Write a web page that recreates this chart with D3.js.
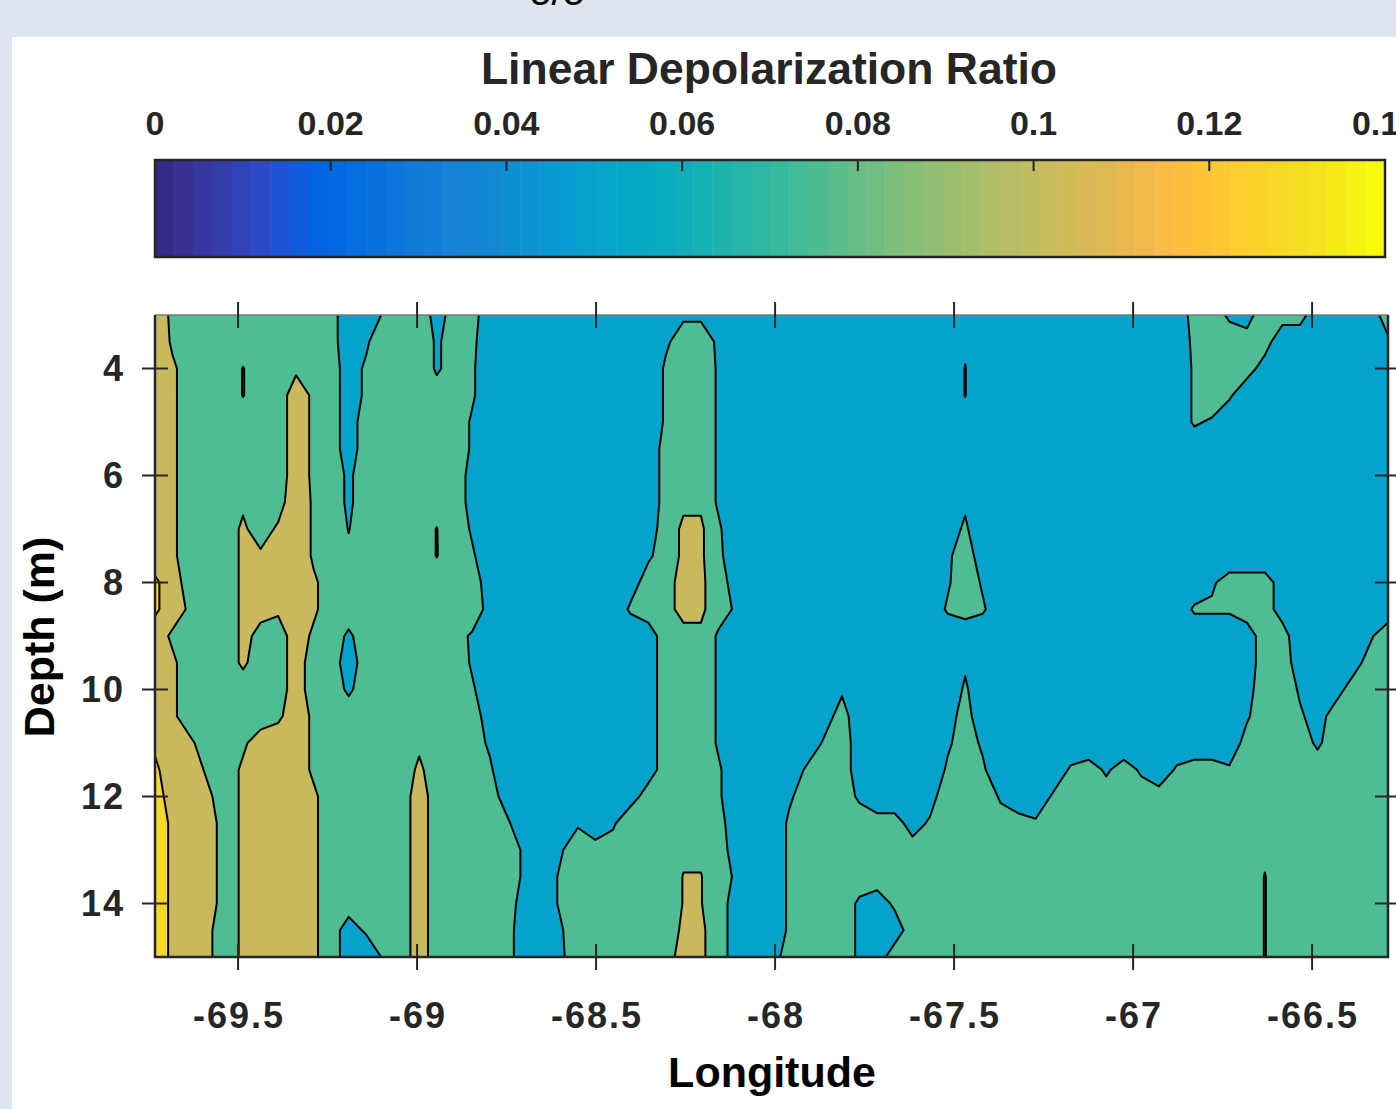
<!DOCTYPE html>
<html><head><meta charset="utf-8">
<script src="https://cdn.jsdelivr.net/npm/d3@7"></script>
<style>
html,body{margin:0;padding:0;background:#dce5f0;}
svg{display:block;}
text{font-family:"Liberation Sans",Arial,Helvetica,sans-serif;}
</style></head><body>
<svg id="chart" width="1396" height="1109"></svg>
<script>
// ---------- DATA ----------
// grid longitudes (profile positions across the section)
const longitudes = [-69.732,-69.683,-69.634,-69.584,-69.535,-69.486,-69.437,-69.388,-69.338,-69.289,
 -69.240,-69.191,-69.142,-69.092,-69.043,-68.994,-68.945,-68.896,-68.846,-68.797,
 -68.748,-68.699,-68.650,-68.600,-68.551,-68.502,-68.453,-68.404,-68.354,-68.305,
 -68.256,-68.207,-68.158,-68.108,-68.059,-68.010,-67.961,-67.912,-67.862,-67.813,
 -67.764,-67.715,-67.666,-67.616,-67.567,-67.518,-67.469,-67.420,-67.370,-67.321,
 -67.272,-67.223,-67.174,-67.124,-67.075,-67.026,-66.977,-66.928,-66.878,-66.829,
 -66.780,-66.731,-66.682,-66.632,-66.583,-66.534,-66.485,-66.436,-66.386,-66.337,-66.288];
// grid depths (m)
const depths = [3,3.5,4,4.5,5,5.5,6,6.5,7,7.5,8,8.5,9,9.5,10,10.5,11,11.5,12,12.5,13,13.5,14,14.5,15];
// estimated linear depolarization ratio readings, keyed by the character used in the rows below
const dlrCodeValues = {"0":0.0542,"1":0.0625,"2":0.0708,"z":0.0742,"a":0.0758,"3":0.0792,"4":0.0875,
  "5":0.0958,"b":0.1008,"6":0.1042,"7":0.1125,"8":0.1208,"9":0.1292,"Y":0.1375};
// one string per depth row, one character per longitude column
const dlrRows = [
 "7544444444"+"4003451440"+"0000000000"+"2200000000"+"0000000000"+"0000000004"+"4215440001"+"4",
 "8544444444"+"4025452431"+"0000000002"+"4420000000"+"0000002000"+"0000000013"+"4444000000"+"2",
 "76444b4454"+"4134452430"+"0000000003"+"4520000000"+"000000a000"+"0000000003"+"4441000000"+"0",
 "76444b4475"+"4134444430"+"0000000003"+"4520000000"+"000000a000"+"0000000003"+"5300000000"+"0",
 "7644444475"+"4144444520"+"0000000003"+"4520000000"+"0000001000"+"0000000003"+"2000000000"+"0",
 "7644444475"+"4144444520"+"0000000004"+"4520000000"+"0000000000"+"0000000000"+"0000000000"+"0",
 "7644444475"+"4244444510"+"0000000004"+"5520000000"+"0000000000"+"0000000000"+"0000000000"+"0",
 "7644454485"+"4244444510"+"0000000004"+"5520000000"+"0000002000"+"0000000000"+"0000000000"+"0",
 "7644464685"+"4z4444z520"+"0000000014"+"6630000000"+"0000013000"+"0000000000"+"0000000000"+"0",
 "7644466785"+"434444z430"+"0000000024"+"6631000000"+"0000024100"+"0000000000"+"0000000000"+"0",
 "9744467786"+"4444444441"+"0000000144"+"7641000000"+"0000025200"+"0000000000"+"2444100000"+"0",
 "9754466676"+"4444444451"+"0000000344"+"7642000000"+"0000034300"+"0000000003"+"3344100000"+"0",
 "7544465475"+"4244444420"+"0000000014"+"4520000000"+"0000000000"+"0000000000"+"0014400002"+"5",
 "7644464474"+"4144444520"+"0000000014"+"4520000000"+"0000002000"+"0000000000"+"0014410014"+"5",
 "7644444474"+"4244444430"+"0000000014"+"4520000002"+"0000003000"+"0000000000"+"0015520144"+"5",
 "7644444575"+"4444444441"+"0000000014"+"4520000014"+"0000014000"+"0000000000"+"0025531444"+"5",
 "8764457775"+"4444454442"+"0000000014"+"4520000034"+"1000024200"+"0000000000"+"0045542444"+"5",
 "9775467775"+"4444464443"+"0000000014"+"4530000344"+"1000034300"+"0034242034"+"4344444444"+"5",
 "9876467776"+"4444474444"+"1000000144"+"4530002444"+"2000154520"+"0344444444"+"4444444444"+"5",
 "Y877467776"+"4444474444"+"3000202544"+"4540003444"+"4441344444"+"3444444444"+"4444444444"+"5",
 "Y877467776"+"4444474444"+"4202544444"+"5541003444"+"4444444444"+"4444444444"+"4445444444"+"5",
 "Y877467776"+"4444474444"+"4203444444"+"bb42003444"+"4444444444"+"4444444444"+"444b444444"+"5",
 "Y877467776"+"4444474444"+"4103444444"+"bb41003444"+"2134444444"+"4444444444"+"444b444444"+"5",
 "Y876467776"+"4134474444"+"4002544444"+"6641003444"+"2114444444"+"4444444444"+"444b444444"+"5",
 "Y876467776"+"4103474444"+"4002444444"+"7641014444"+"2144444444"+"4444444444"+"444b444444"+"5"
];
const contourLevels = [0.05, 0.075, 0.1, 0.125];
const contourColors = ["#05a2cc", "#4ebd92", "#c8ba5c", "#f6d826"];
const xTicks = [-69.5, -69, -68.5, -68, -67.5, -67, -66.5];
const yTicks = [4, 6, 8, 10, 12, 14];
const cbTicks = [0, 0.02, 0.04, 0.06, 0.08, 0.1, 0.12, 0.14];
const cbTickLabels = ["0", "0.02", "0.04", "0.06", "0.08", "0.1", "0.12", "0.14"];
// parula colormap, 64 entries
const parula64 = [
[0.2081,0.1663,0.5292],[0.2116,0.1898,0.5777],[0.2123,0.2138,0.6270],[0.2081,0.2386,0.6771],
[0.1959,0.2645,0.7279],[0.1707,0.2919,0.7792],[0.1253,0.3242,0.8303],[0.0591,0.3598,0.8683],
[0.0117,0.3875,0.8820],[0.0060,0.4086,0.8828],[0.0165,0.4266,0.8786],[0.0329,0.4430,0.8720],
[0.0498,0.4586,0.8641],[0.0629,0.4737,0.8554],[0.0723,0.4887,0.8467],[0.0779,0.5040,0.8384],
[0.0793,0.5200,0.8312],[0.0749,0.5375,0.8263],[0.0641,0.5570,0.8240],[0.0488,0.5772,0.8228],
[0.0343,0.5966,0.8199],[0.0265,0.6137,0.8135],[0.0239,0.6287,0.8038],[0.0231,0.6418,0.7913],
[0.0228,0.6535,0.7768],[0.0267,0.6642,0.7607],[0.0384,0.6743,0.7436],[0.0590,0.6838,0.7254],
[0.0843,0.6928,0.7062],[0.1133,0.7015,0.6859],[0.1453,0.7098,0.6646],[0.1801,0.7177,0.6424],
[0.2178,0.7250,0.6193],[0.2586,0.7317,0.5954],[0.3022,0.7376,0.5712],[0.3482,0.7424,0.5473],
[0.3953,0.7459,0.5244],[0.4420,0.7481,0.5033],[0.4871,0.7491,0.4840],[0.5300,0.7491,0.4661],
[0.5709,0.7485,0.4494],[0.6099,0.7473,0.4337],[0.6473,0.7456,0.4188],[0.6834,0.7435,0.4044],
[0.7184,0.7411,0.3905],[0.7525,0.7384,0.3768],[0.7858,0.7356,0.3633],[0.8185,0.7327,0.3498],
[0.8507,0.7299,0.3360],[0.8824,0.7274,0.3217],[0.9139,0.7258,0.3063],[0.9450,0.7261,0.2886],
[0.9739,0.7314,0.2666],[0.9938,0.7455,0.2403],[0.9990,0.7653,0.2164],[0.9955,0.7861,0.1967],
[0.9880,0.8066,0.1794],[0.9789,0.8271,0.1633],[0.9697,0.8481,0.1475],[0.9626,0.8705,0.1309],
[0.9589,0.8949,0.1132],[0.9598,0.9218,0.0948],[0.9661,0.9514,0.0755],[0.9763,0.9831,0.0538]];

// ---------- DRAW ----------
const svg = d3.select("#chart");
const axisColor = "#262626";

svg.append("rect").attr("width",1396).attr("height",1109).attr("fill","#dce5f0");
svg.append("rect").attr("x",12).attr("y",37).attr("width",1384).attr("height",1072).attr("fill","#ffffff");

// text cut off at the very top edge (as in the reference)
svg.append("text").attr("x",557).attr("y",5).attr("text-anchor","middle")
  .attr("font-size",40).attr("fill","#000").text("δ/δ");

const plot = {left:155, right:1388, top:315, bottom:957};
const x = d3.scaleLinear().domain([longitudes[0], longitudes[longitudes.length-1]]).range([plot.left, plot.right]);
const y = d3.scaleLinear().domain([3, 15]).range([plot.top, plot.bottom]);

// grid index -> data coordinate
const gx = d3.scaleLinear().domain(d3.range(longitudes.length)).range(longitudes);
const gy = d3.scaleLinear().domain(d3.range(depths.length)).range(depths);

const nx = longitudes.length, ny = depths.length;
const values = dlrRows.flatMap(r => Array.from(r).map(c => dlrCodeValues[c]));

const contours = d3.contours().size([nx, ny]).thresholds(contourLevels)(values);

svg.append("clipPath").attr("id","plotclip").append("rect")
  .attr("x",plot.left).attr("y",plot.top).attr("width",plot.right-plot.left).attr("height",plot.bottom-plot.top);

function mpPath(geom){
  let d = "";
  geom.coordinates.forEach(poly => poly.forEach(ring => {
    d += "M" + ring.map(([cx,cy]) => x(gx(cx-0.5)).toFixed(2)+","+y(gy(cy-0.5)).toFixed(2)).join("L") + "Z";
  }));
  return d;
}

const cg = svg.append("g").attr("clip-path","url(#plotclip)");
cg.selectAll("path").data(contours).join("path")
  .attr("d", mpPath)
  .attr("fill", (d,i) => contourColors[i])
  .attr("fill-rule","evenodd")
  .attr("stroke","#000")
  .attr("stroke-width",2)
  .attr("stroke-linejoin","round");

// frame
svg.append("line").attr("x1",plot.left).attr("x2",plot.right).attr("y1",plot.top).attr("y2",plot.top)
  .attr("stroke","#7a7a7a").attr("stroke-width",1.5);
svg.append("path").attr("d",`M${plot.left},${plot.top}V${plot.bottom}H${plot.right}V${plot.top}`)
  .attr("fill","none").attr("stroke",axisColor).attr("stroke-width",2.5);

// ticks (both directions)
const tk = 13;
const tg = svg.append("g").attr("stroke",axisColor).attr("stroke-width",2);
xTicks.forEach(v => {
  tg.append("line").attr("x1",x(v)).attr("x2",x(v)).attr("y1",plot.bottom-tk).attr("y2",plot.bottom+tk);
  tg.append("line").attr("x1",x(v)).attr("x2",x(v)).attr("y1",plot.top-tk).attr("y2",plot.top+tk);
});
yTicks.forEach(v => {
  tg.append("line").attr("x1",plot.left-tk).attr("x2",plot.left+tk).attr("y1",y(v)).attr("y2",y(v));
  tg.append("line").attr("x1",plot.right-tk).attr("x2",plot.right+tk).attr("y1",y(v)).attr("y2",y(v));
});

// tick labels
svg.append("g").selectAll("text").data(xTicks).join("text")
  .attr("x",d=>x(d)+1).attr("y",1028).attr("text-anchor","middle")
  .attr("font-size",36).attr("font-weight","bold").attr("fill",axisColor)
  .attr("letter-spacing","2px")
  .text(d=>String(d));
svg.append("g").selectAll("text").data(yTicks).join("text")
  .attr("x",125).attr("y",d=>y(d)).attr("dy","0.36em").attr("text-anchor","end")
  .attr("font-size",36).attr("font-weight","bold").attr("fill",axisColor)
  .attr("letter-spacing","2px")
  .text(d=>d);

// axis titles
svg.append("text").attr("x",772).attr("y",1087).attr("text-anchor","middle")
  .attr("font-size",43).attr("font-weight","bold").attr("fill","#000").text("Longitude");
svg.append("text").attr("transform","translate(54,637) rotate(-90)").attr("text-anchor","middle")
  .attr("font-size",43).attr("font-weight","bold").attr("fill","#000").text("Depth (m)");

// ---------- COLORBAR ----------
const cb = {left:155, right:1385, top:160, bottom:257};
const cx = d3.scaleLinear().domain([0, 0.14]).range([cb.left, cb.right]);
const step = 0.14/parula64.length;
svg.append("g").selectAll("rect").data(parula64).join("rect")
  .attr("x",(d,i)=>cx(i*step)).attr("y",cb.top)
  .attr("width",(d,i)=>cx((i+1)*step)-cx(i*step)+0.5).attr("height",cb.bottom-cb.top)
  .attr("fill",d=>d3.rgb(d[0]*255,d[1]*255,d[2]*255).formatHex());
svg.append("rect").attr("x",cb.left).attr("y",cb.top).attr("width",cb.right-cb.left).attr("height",cb.bottom-cb.top)
  .attr("fill","none").attr("stroke",axisColor).attr("stroke-width",2.5);
svg.append("g").selectAll("line").data(cbTicks.slice(1,-1)).join("line")
  .attr("x1",d=>cx(d)).attr("x2",d=>cx(d)).attr("y1",cb.top).attr("y2",cb.top+11)
  .attr("stroke",axisColor).attr("stroke-width",2);
svg.append("g").selectAll("text").data(cbTicks).join("text")
  .attr("x",d=>cx(d)).attr("y",135).attr("text-anchor","middle")
  .attr("font-size",34).attr("font-weight","bold").attr("fill",axisColor)
  .text((d,i)=>cbTickLabels[i]);
svg.append("text").attr("x",769).attr("y",84).attr("text-anchor","middle")
  .attr("font-size",44.5).attr("font-weight","bold").attr("fill",axisColor)
  .text("Linear Depolarization Ratio");
</script>
</body></html>
